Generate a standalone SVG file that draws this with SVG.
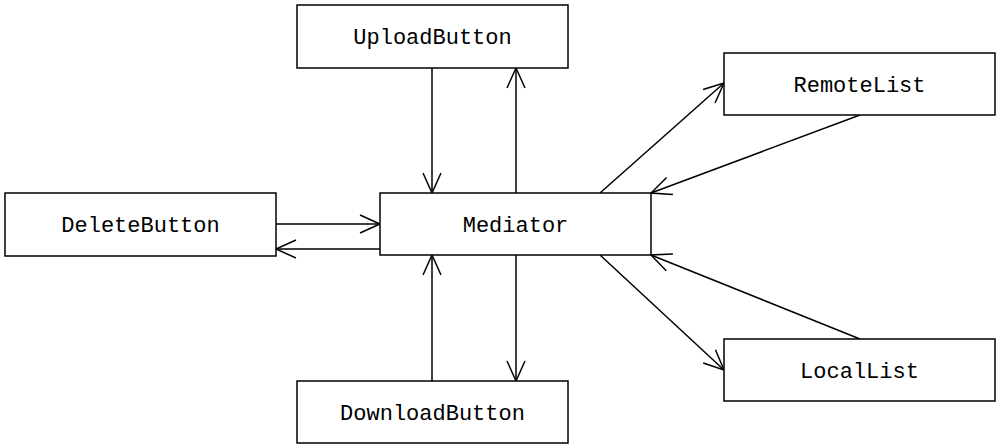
<svg xmlns="http://www.w3.org/2000/svg" width="1001" height="444" viewBox="0 0 1001 444">
<style>
.box{fill:#fff;stroke:#000;stroke-width:1.5}
.lbl{font-family:"Liberation Mono","Courier New",monospace;font-size:22px;fill:#000;text-anchor:middle}
.conn{stroke:#000;stroke-width:1.5;fill:none;marker-end:url(#arr)}
</style>
<defs>
<marker id="arr" markerUnits="userSpaceOnUse" markerWidth="24" markerHeight="24" viewBox="-22 -12 24 24" refX="0" refY="0" orient="auto">
<path d="M-20,-9 L0,0 L-20,9" fill="none" stroke="#000" stroke-width="1.5"/>
</marker>
</defs>
<g id="connectors">
<line class="conn" x1="432" y1="68" x2="432" y2="193"/>
<line class="conn" x1="516" y1="193" x2="516" y2="68"/>
<line class="conn" x1="276" y1="224" x2="380" y2="224"/>
<line class="conn" x1="380" y1="249" x2="276" y2="249"/>
<line class="conn" x1="432" y1="381" x2="432" y2="255"/>
<line class="conn" x1="516" y1="255" x2="516" y2="381"/>
<line class="conn" x1="600" y1="193" x2="724" y2="83"/>
<line class="conn" x1="860" y1="115" x2="651" y2="193"/>
<line class="conn" x1="600" y1="255" x2="724" y2="370"/>
<line class="conn" x1="860" y1="339" x2="651" y2="255"/>
</g>
<g id="UploadButton"><rect class="box" x="297" y="5" width="271" height="63"/><text class="lbl" x="432.5" y="44">UploadButton</text></g>
<g id="Mediator"><rect class="box" x="380" y="193" width="271" height="62"/><text class="lbl" x="515.5" y="232">Mediator</text></g>
<g id="DeleteButton"><rect class="box" x="5" y="193" width="271" height="63"/><text class="lbl" x="140.5" y="232">DeleteButton</text></g>
<g id="DownloadButton"><rect class="box" x="297" y="381" width="271" height="62"/><text class="lbl" x="432.5" y="420">DownloadButton</text></g>
<g id="RemoteList"><rect class="box" x="724" y="53" width="271" height="62"/><text class="lbl" x="859.5" y="92">RemoteList</text></g>
<g id="LocalList"><rect class="box" x="724" y="339" width="271" height="62"/><text class="lbl" x="859.5" y="378">LocalList</text></g>
</svg>
